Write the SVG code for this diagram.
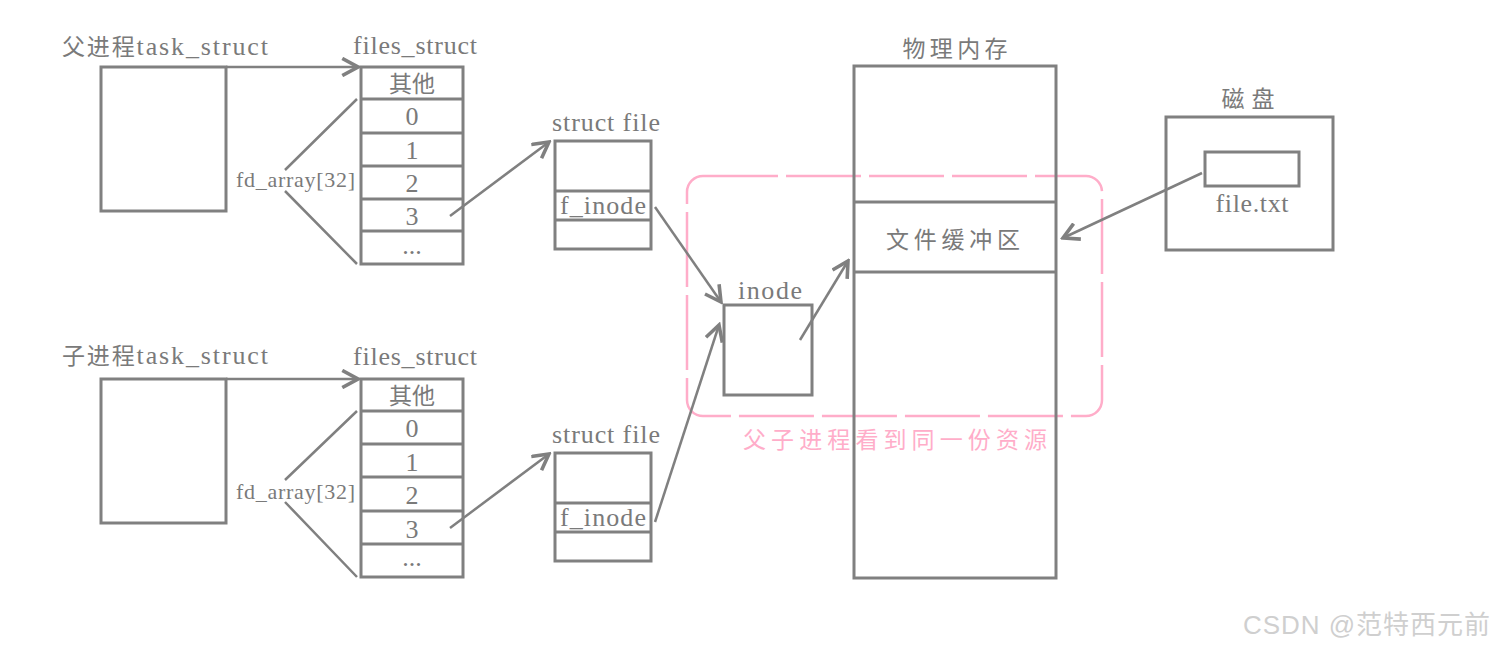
<svg xmlns="http://www.w3.org/2000/svg" width="1496" height="650" viewBox="0 0 1496 650">
<style>
.box{fill:none;stroke:#808080;stroke-width:3}
.ln{fill:none;stroke:#808080;stroke-width:2.5}
.t{font-family:"Liberation Serif","Noto Sans CJK SC",serif;fill:#7a7a7a;font-size:26px}
.k{font-size:23px}
.c{text-anchor:middle}
.s{font-size:22px}
.pink{font-family:"Noto Sans CJK SC",sans-serif;fill:#ffadc9;font-size:23px}
.wm{font-family:"Liberation Sans","Noto Sans CJK SC",sans-serif;fill:#cfcfcf;font-size:26px}
</style>
<defs>
<marker id="ah" markerUnits="userSpaceOnUse" markerWidth="20" markerHeight="20" refX="12" refY="7" orient="auto" viewBox="0 0 14 14">
<path d="M1,1 L12,7 L1,13" fill="none" stroke="#808080" stroke-width="2.5"/>
</marker>
</defs>
<rect width="1496" height="650" fill="#fff"/>

<g id="shared-region">
<rect x="687" y="176" width="415" height="240" rx="16" fill="none" stroke="#ffadc9" stroke-width="2.5" stroke-dasharray="75 8"/>
<text class="pink" x="743" y="448" textLength="304">父子进程看到同一份资源</text>
</g>

<g id="parent-task">
<text class="t" x="62" y="55" textLength="206"><tspan class="k">父进程</tspan><tspan>task_struct</tspan></text>
<rect class="box" x="101" y="67" width="125" height="144"/>
</g>

<g id="parent-files">
<text class="t c" x="415" y="54" textLength="124">files_struct</text>
<rect class="box" x="361" y="67" width="102" height="197"/>
<path class="box" d="M361,99H463M361,133H463M361,166H463M361,199H463M361,231H463"/>
<text class="t c k" x="412" y="92">其他</text>
<text class="t c" x="412" y="125">0</text>
<text class="t c" x="412" y="159">1</text>
<text class="t c" x="412" y="192">2</text>
<text class="t c" x="412" y="225">3</text>
<text class="t c" x="412" y="254">...</text>
<text class="t s" x="236" y="187" textLength="119">fd_array[32]</text>
</g>

<g id="parent-file">
<text class="t c" x="606" y="131" textLength="108">struct file</text>
<rect class="box" x="555" y="141" width="96" height="108"/>
<path class="box" d="M555,191H651M555,220H651"/>
<text class="t c" x="603" y="214" textLength="86">f_inode</text>
</g>

<g id="child-task">
<text class="t" x="62" y="364" textLength="206"><tspan class="k">子进程</tspan><tspan>task_struct</tspan></text>
<rect class="box" x="101" y="379" width="125" height="144"/>
</g>

<g id="child-files">
<text class="t c" x="415" y="365" textLength="124">files_struct</text>
<rect class="box" x="361" y="379" width="102" height="198"/>
<path class="box" d="M361,411H463M361,444H463M361,477H463M361,511H463M361,544H463"/>
<text class="t c k" x="412" y="404">其他</text>
<text class="t c" x="412" y="437">0</text>
<text class="t c" x="412" y="471">1</text>
<text class="t c" x="412" y="504">2</text>
<text class="t c" x="412" y="538">3</text>
<text class="t c" x="412" y="566">...</text>
<text class="t s" x="236" y="499" textLength="119">fd_array[32]</text>
</g>

<g id="child-file">
<text class="t c" x="606" y="443" textLength="108">struct file</text>
<rect class="box" x="555" y="453" width="96" height="108"/>
<path class="box" d="M555,503H651M555,532H651"/>
<text class="t c" x="603" y="526" textLength="86">f_inode</text>
</g>

<g id="inode">
<text class="t c" x="770" y="299" textLength="64">inode</text>
<rect class="box" x="724" y="305" width="88" height="90"/>
</g>

<g id="memory">
<text class="t c k" x="955" y="57" textLength="105">物理内存</text>
<rect class="box" x="854" y="66" width="202" height="512"/>
<path class="box" d="M854,202H1056M854,272H1056"/>
<text class="t c k" x="953" y="248" textLength="134">文件缓冲区</text>
</g>

<g id="disk">
<text class="t c k" x="1248" y="107" textLength="53">磁盘</text>
<rect class="box" x="1166" y="117" width="167" height="133"/>
<rect class="box" x="1205" y="152" width="94" height="34"/>
<text class="t c" x="1252" y="212" textLength="73">file.txt</text>
</g>

<g id="connectors">
<path class="ln" d="M226,67H358" marker-end="url(#ah)"/>
<path class="ln" d="M226,379H358" marker-end="url(#ah)"/>
<path class="ln" d="M285,170L357,99M285,191L357,264"/>
<path class="ln" d="M285,480L357,411M285,502L357,577"/>
<path class="ln" d="M450,216L549,142" marker-end="url(#ah)"/>
<path class="ln" d="M450,528L549,454" marker-end="url(#ah)"/>
<path class="ln" d="M655,207L721,302" marker-end="url(#ah)"/>
<path class="ln" d="M655,522L719,325" marker-end="url(#ah)"/>
<path class="ln" d="M800,340L848,261" marker-end="url(#ah)"/>
<path class="ln" d="M1202,173L1063,238" marker-end="url(#ah)"/>
</g>

<text class="wm" x="1243" y="634" textLength="247">CSDN @范特西元前</text>
</svg>
